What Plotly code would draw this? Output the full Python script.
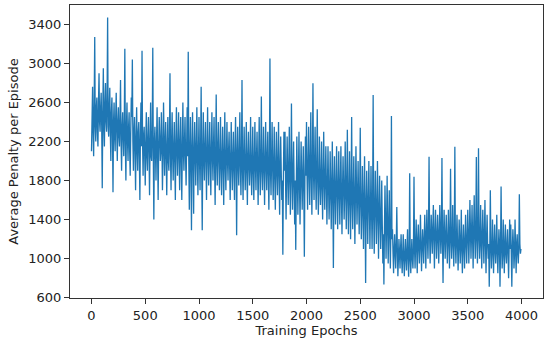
import plotly.graph_objects as go

# Average penalty per episode.
# penalty_a: values at epochs 0, 10, 20, ...; penalty_b: values at epochs 5, 15, 25, ...
penalty_a = [
    2100, 2760, 2050, 3270, 2200, 2650, 2150, 2900, 2300, 2700,
    1720, 2950, 2150, 2800, 2300, 3470, 2250, 2750, 2000, 2650,
    1680, 2600, 2100, 2700, 2000, 2550, 2150, 2830, 1900, 2500,
    2050, 3150, 1800, 2600, 2000, 2500, 1850, 2650, 3040, 1900,
    2450, 1700, 2550, 1900, 2400, 1600, 2600, 3130, 1850, 2350,
    1750, 2500, 1900, 2450, 1650, 2600, 2000, 3160, 1400, 2350,
    1800, 2550, 1600, 2450, 2000, 2500, 1700, 2600, 1850, 2400,
    1650, 2450, 1900, 2900, 1700, 2500, 1800, 2400, 1600, 2550,
    1850, 2500, 1700, 2450, 1600, 2600, 1900, 2450, 1750, 2550,
    3120, 1500, 2450, 1290, 2500, 1460, 2400, 1750, 2550, 1650,
    2450, 1700, 2760, 1290, 2500, 1800, 2400, 1600, 2550, 1750,
    2400, 1650, 2500, 1800, 2450, 1550, 2680, 1750, 2400, 1700,
    2450, 1650, 2350, 1550, 2500, 1700, 2400, 1800, 2300, 1600,
    2400, 1700, 2300, 1600, 2450, 1240, 2350, 1750, 2500, 1650,
    2830, 1600, 2350, 1700, 2400, 1550, 2300, 1750, 2450, 1650,
    2350, 1600, 2400, 1700, 2300, 1550, 2450, 1650, 2660, 1700,
    2350, 1550, 2400, 1700, 2300, 1500, 3050, 1650, 2400, 1600,
    2350, 1500, 2300, 1650, 2400, 1450, 2250, 1600, 1040, 2300,
    2300, 1400, 2250, 1550, 2350, 1450, 2590, 1500, 2200, 1350,
    1090, 2250, 1450, 2300, 1350, 2200, 1500, 2150, 1020, 2250,
    2400, 1500, 2350, 1550, 2500, 1450, 2796, 1600, 2350, 1500,
    2530, 1450, 2250, 1550, 2200, 1400, 2300, 1500, 2150, 1350,
    2150, 1400, 2100, 1300, 2200, 905, 2050, 1350, 2150, 1300,
    2100, 1350, 2150, 1250, 2050, 1400, 2200, 1300, 2320, 1250,
    2100, 1200, 2450, 1300, 2050, 1150, 2150, 1350, 2000, 1250,
    2340, 1200, 1950, 1100, 2050, 750, 1900, 1150, 2000, 1100,
    1950, 1100, 2676, 1050, 1900, 1150, 2000, 1000, 1850, 1100,
    1800, 950, 735, 1750, 1000, 1850, 950, 1700, 900, 2460,
    1300, 850, 1250, 900, 1530, 820, 1200, 900, 1250, 850,
    1250, 820, 1200, 880, 1300, 815, 1875, 850, 1200, 900,
    1840, 900, 1400, 850, 1350, 950, 1450, 870, 1300, 950,
    1450, 900, 1500, 1000, 2044, 950, 1450, 1050, 1550, 900,
    1500, 1000, 1450, 950, 1550, 1050, 2030, 750, 1500, 1000,
    1450, 950, 1500, 900, 1920, 1000, 1550, 920, 2147, 950,
    1450, 880, 1400, 950, 1500, 850, 1350, 900, 1450, 950,
    1500, 950, 1600, 1000, 1550, 900, 1650, 1000, 2040, 950,
    2130, 1000, 1550, 900, 1500, 950, 1600, 850, 1450, 1000,
    713, 1700, 900, 1400, 850, 1350, 950, 1450, 850, 1300,
    713, 1740, 900, 1400, 850, 1350, 950, 1300, 800, 1400,
    1350, 713, 1300, 900, 1400, 850, 1250, 950, 1660, 1050,
]
penalty_b = [
    2450, 2300, 2600, 2350, 2550, 2300, 2600, 2400, 2550, 2350,
    2500, 2350, 2600, 2400, 2650, 2350, 2550, 2300, 2500, 2300,
    2400, 2250, 2450, 2300, 2400, 2250, 2450, 2200, 2350, 2250,
    2400, 2150, 2350, 2200, 2350, 2100, 2300, 2450, 2200, 2300,
    2100, 2250, 2100, 2300, 2050, 2250, 2150, 2200, 2250, 2050,
    2200, 2050, 2250, 2100, 2200, 2050, 2300, 2050, 2200, 2100,
    2200, 2050, 2150, 2250, 2100, 2200, 2050, 2250, 2150, 2050,
    2150, 2000, 2250, 2050, 2200, 2050, 2150, 2000, 2200, 2100,
    2150, 2050, 2200, 2000, 2150, 2100, 2200, 2050, 2150, 2050,
    2000, 2100, 1950, 2150, 2000, 2100, 2050, 2150, 2000, 2100,
    2000, 2150, 1950, 2100, 2000, 2150, 2000, 2100, 2050, 2100,
    2000, 2100, 2050, 2150, 1950, 2100, 2000, 2150, 2000, 2050,
    1950, 2050, 1950, 2100, 1950, 2050, 2000, 2100, 1950, 2050,
    1950, 2050, 1900, 2100, 2000, 2050, 1950, 2100, 1950, 2050,
    1900, 2050, 1950, 2000, 1900, 2050, 1950, 2000, 1900, 2000,
    1900, 2000, 1950, 2050, 1900, 2000, 1950, 2050, 1900, 2000,
    1900, 2000, 1950, 2050, 1850, 2000, 1900, 2000, 1950, 1950,
    1850, 1950, 1900, 2000, 1850, 1950, 1900, 1800, 1850, 1900,
    1800, 1900, 1850, 1950, 1800, 1900, 1850, 1900, 1750, 1800,
    1750, 1800, 1850, 1750, 1850, 1800, 1850, 1700, 1800, 1850,
    1850, 1950, 1900, 2000, 1850, 1950, 1900, 1950, 1850, 1900,
    1850, 1750, 1850, 1800, 1750, 1850, 1800, 1850, 1750, 1750,
    1750, 1650, 1750, 1700, 1650, 1750, 1650, 1750, 1700, 1700,
    1700, 1750, 1650, 1700, 1750, 1650, 1750, 1700, 1650, 1650,
    1650, 1700, 1600, 1700, 1600, 1650, 1700, 1650, 1600, 1650,
    1600, 1500, 1550, 1600, 1450, 1550, 1500, 1600, 1550, 1500,
    1500, 1550, 1450, 1500, 1550, 1450, 1500, 1450, 1450, 1400,
    1350, 1250, 1300, 1400, 1350, 1300, 1350, 1250, 1300, 1200,
    1050, 1100, 1050, 1150, 1100, 1000, 1050, 1100, 1000, 1050,
    1000, 1050, 1000, 1100, 1000, 1050, 1000, 1050, 1000, 1100,
    1100, 1150, 1100, 1200, 1100, 1150, 1150, 1100, 1150, 1200,
    1200, 1250, 1200, 1300, 1250, 1200, 1250, 1300, 1200, 1250,
    1250, 1200, 1250, 1200, 1300, 1250, 1200, 1250, 1200, 1250,
    1200, 1150, 1250, 1200, 1250, 1200, 1150, 1250, 1150, 1200,
    1150, 1100, 1200, 1150, 1100, 1150, 1100, 1200, 1150, 1200,
    1250, 1200, 1300, 1250, 1200, 1300, 1250, 1300, 1200, 1250,
    1250, 1200, 1150, 1250, 1200, 1250, 1150, 1200, 1150, 1150,
    1100, 1150, 1050, 1150, 1100, 1100, 1150, 1050, 1100, 1150,
    1100, 1150, 1050, 1100, 1150, 1050, 1150, 1050, 1100, 1100,
    1050, 1100, 1150, 1050, 1100, 1150, 1050, 1100, 1150, 1100,
]

epochs, penalty = [], []
for i, (va, vb) in enumerate(zip(penalty_a, penalty_b)):
    epochs += [i * 10, i * 10 + 5]
    penalty += [va, vb]

x_ticks = [0, 500, 1000, 1500, 2000, 2500, 3000, 3500, 4000]
y_ticks = [600, 1000, 1400, 1800, 2200, 2600, 3000, 3400]

fig = go.Figure()
fig.add_trace(go.Scatter(
    x=epochs, y=penalty, mode="lines",
    line=dict(color="#1f77b4", width=1.3),
    opacity=1.0, showlegend=False, hoverinfo="skip",
))

font = dict(family="DejaVu Sans", size=13, color="#222222")
fig.update_layout(
    width=550, height=343,
    margin=dict(l=70, r=7, t=5, b=45),
    paper_bgcolor="white", plot_bgcolor="white",
    font=font,
)
axis_common = dict(
    showgrid=False, zeroline=False, showline=True, mirror=True,
    linecolor="#333333", linewidth=1,
    ticks="outside", ticklen=5, tickwidth=1, tickcolor="#333333",
    tickfont=font, automargin=False,
)
fig.update_xaxes(
    range=[-200, 4200], tickvals=x_ticks,
    title=dict(text="Training Epochs", font=font, standoff=3),
    **axis_common,
)
fig.update_yaxes(
    range=[597, 3598], tickvals=y_ticks,
    title=dict(text="Average Penalty per Episode", font=font, standoff=6),
    **axis_common,
)

fig.write_html("out.html", config={"displayModeBar": False},
               post_script="document.body.style.margin='0';")
